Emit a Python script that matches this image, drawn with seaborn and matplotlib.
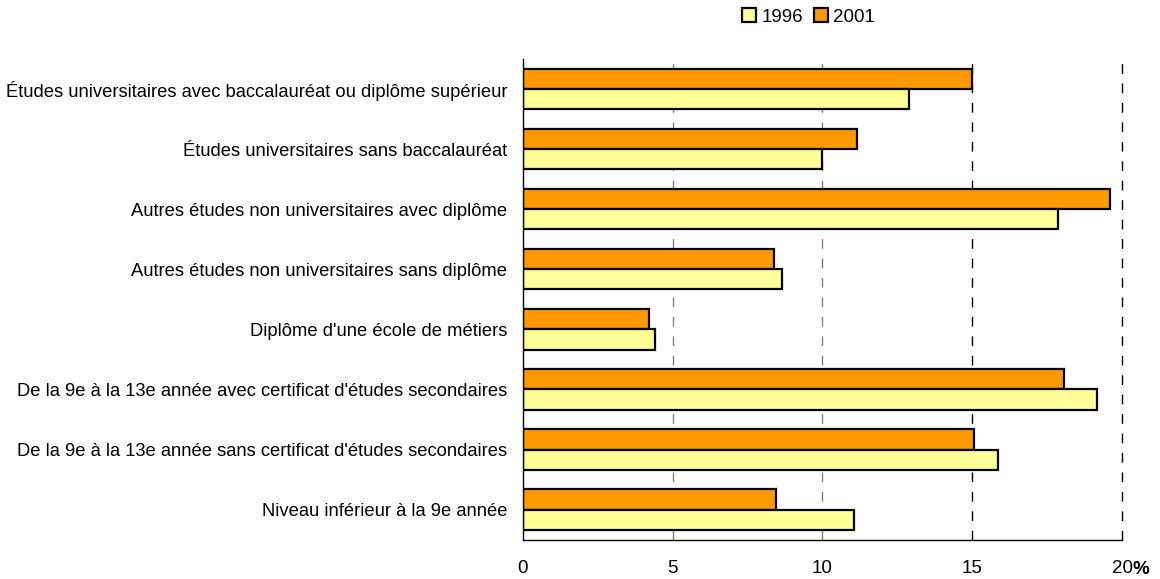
import pandas as pd
import matplotlib.pyplot as plt
import seaborn as sns
from matplotlib.patches import Patch

# --- data ---
categories = [
    "Études universitaires avec baccalauréat ou diplôme supérieur",
    "Études universitaires sans baccalauréat",
    "Autres études non universitaires avec diplôme",
    "Autres études non universitaires sans diplôme",
    "Diplôme d'une école de métiers",
    "De la 9e à la 13e année avec certificat d'études secondaires",
    "De la 9e à la 13e année sans certificat d'études secondaires",
    "Niveau inférieur à la 9e année",
]
values_1996 = [12.9, 10.0, 17.85, 8.65, 4.4, 19.15, 15.85, 11.05]
values_2001 = [15.0, 11.15, 19.6, 8.4, 4.2, 18.05, 15.05, 8.45]
years = ["1996", "2001"]
colors = {"1996": "#FFFF99", "2001": "#FF9900"}

df = pd.DataFrame({
    "categorie": categories * 2,
    "annee": ["1996"] * len(categories) + ["2001"] * len(categories),
    "pct": values_1996 + values_2001,
})

sns.set_style("white")
plt.rcParams["font.family"] = ["Liberation Sans", "DejaVu Sans"]
plt.rcParams["text.color"] = "black"
plt.rcParams["xtick.color"] = "black"
plt.rcParams["ytick.color"] = "black"

fig = plt.figure(figsize=(11.6, 5.79), dpi=100)
ax = fig.add_axes([0.4505, 0.068, 0.517, 0.83])

sns.barplot(data=df, y="categorie", x="pct", hue="annee",
            hue_order=["2001", "1996"], order=categories, palette=colors,
            saturation=1, orient="h", width=0.67, gap=0,
            edgecolor="black", linewidth=1.6, legend=False, ax=ax)

ax.set_xlim(0, 20)
ax.set_ylim(len(categories) - 0.5, -0.5)
ax.set_xticks([0, 5, 10, 15, 20])
ax.set_xticklabels(["0", "5", "10", "15", "20"], fontsize=13.5)
ax.set_xlabel("")
ax.set_ylabel("")
ax.tick_params(axis="y", length=0, labelsize=13.2, pad=11)
ax.tick_params(axis="x", direction="out", length=5, width=1, pad=10)

# bold % sign right after the "20" tick label
ax.annotate("%", xy=(20, 0), xycoords=("data", "axes fraction"),
            xytext=(7.5, -15.5), textcoords="offset points",
            fontsize=13.5, fontweight="bold", ha="left", va="top")

# category separator ticks on the y axis
ax.set_yticks([i + 0.5 for i in range(-1, len(categories))], minor=True)
ax.tick_params(axis="y", which="minor", direction="out", length=5, width=1)

# dashed vertical gridlines
for xv, c in [(5, "#808080"), (10, "#808080"), (15, "black"), (20, "black")]:
    ax.axvline(xv, color=c, linestyle=(0, (7, 7)), linewidth=1, zorder=0, clip_on=False)
ax.set_axisbelow(True)

for side in ["top", "right"]:
    ax.spines[side].set_visible(False)
for side in ["left", "bottom"]:
    ax.spines[side].set_color("black")
    ax.spines[side].set_linewidth(1)

handles = [Patch(facecolor=colors[y], edgecolor="black", linewidth=1.6, label=y) for y in years]
fig.legend(handles=handles, loc="upper center", bbox_to_anchor=(0.697, 1.015), ncol=2,
           frameon=False, fontsize=13.5, handlelength=0.75, handleheight=0.75,
           handletextpad=0.25, columnspacing=0.6)

fig.savefig("out.png", dpi=100, facecolor="white")
